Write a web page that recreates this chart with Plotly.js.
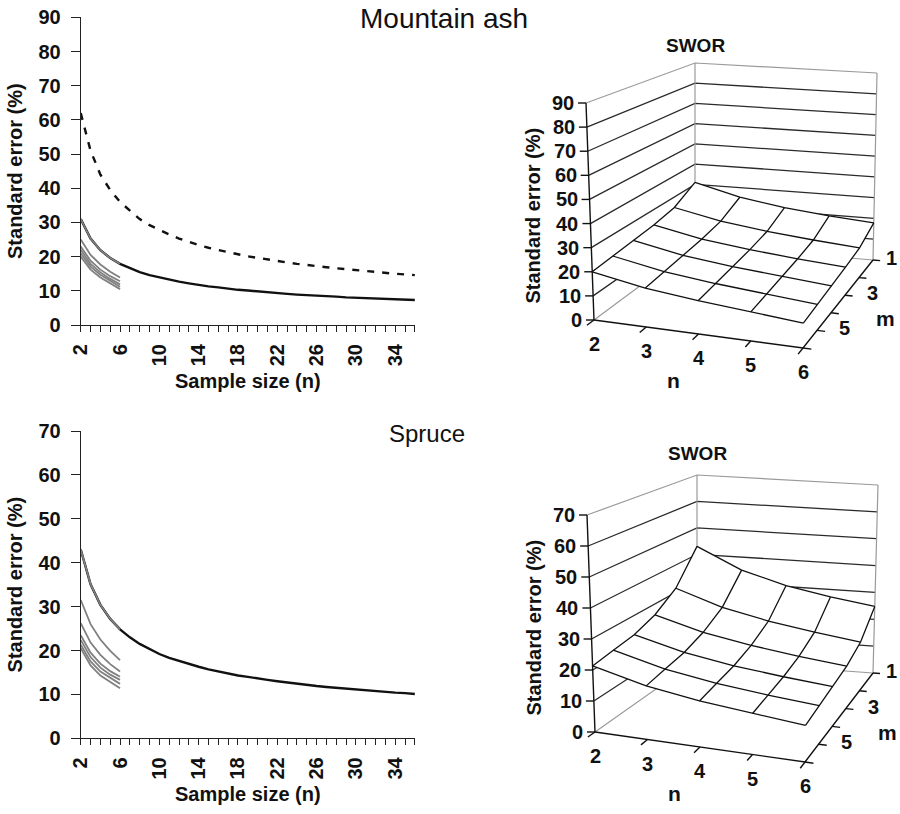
<!DOCTYPE html>
<html>
<head>
<meta charset="utf-8">
<script src="https://cdn.plot.ly/plotly-3.0.1.min.js"></script>
<style>html,body{margin:0;padding:0;background:#fff}#chart{width:900px;height:814px}</style>
</head>
<body>
<div id="chart"></div>
<script>
// ---------- data ----------
const sampleN = [2,3,4,5,6,7,8,9,10,11,12,13,14,15,16,17,18,19,20,21,22,23,24,25,26,27,28,29,30,31,32,33,34,35,36];
const ashDashed = [62,51,44,39.5,36,33.5,31,29.2,27.8,26.5,25.3,24.3,23.4,22.6,21.9,21.3,20.7,20.1,19.6,19.1,18.7,18.3,17.9,17.5,17.2,16.9,16.6,16.3,16.0,15.8,15.5,15.3,15.0,14.8,14.6];
const ashSolid = [31,25.3,21.9,19.6,17.9,16.6,15.5,14.6,13.9,13.2,12.7,12.2,11.7,11.3,11.0,10.6,10.3,10.1,9.8,9.6,9.3,9.1,8.9,8.8,8.6,8.4,8.3,8.1,8.0,7.9,7.8,7.6,7.5,7.4,7.3];
const spruceSolid = [43,35.1,30.4,27.2,24.8,23.0,21.5,20.3,19.2,18.3,17.6,16.9,16.3,15.7,15.2,14.7,14.3,14.0,13.6,13.3,13.0,12.7,12.4,12.2,11.9,11.7,11.5,11.3,11.1,10.9,10.8,10.6,10.4,10.3,10.1];

const subN = [2,3,4,5,6];
const mValues = [1,2,3,4,5,6];
const ashM1 = [31,25.3,21.9,19.6,17.9];
const ashM2 = [25,20.5,17.7,15.6,13.9];
const ashM3 = [23,18.8,16.2,14.3,12.8];
const ashM4 = [22,17.9,15.4,13.5,11.9];
const ashM5 = [21,17.1,14.7,12.9,11.2];
const ashM6 = [20,16.2,13.9,12.2,10.5];

const spruceM1 = [43,35.1,30.4,27.2,24.8];
const spruceM2 = [31.5,26.0,22.5,19.9,17.8];
const spruceM3 = [26.2,21.8,19.0,16.9,15.2];
const spruceM4 = [23.5,19.5,17.0,15.3,14.0];
const spruceM5 = [22.4,18.5,16.1,14.5,13.3];
const spruceM6 = [21.3,17.5,15.2,13.7,12.4];
const spruceM7 = [20.5,16.6,14.3,12.8,11.4];

const ashYTicks = [0,10,20,30,40,50,60,70,80,90];
const spruceYTicks = [0,10,20,30,40,50,60,70];
const m3DLabels = [1,3,5];

// ---------- styling ----------
const FF = 'Liberation Sans, Arial, Helvetica, sans-serif';
const boldFont = (s) => ({family: FF, size: s, color: '#111', weight: 'bold'});
const GRAY = '#808080';
const FIG_W = 900;

const traces = [];
const annotations = [];

// ---------- 2D panels ----------
traces.push({x: sampleN, y: ashDashed, type:'scatter', mode:'lines', line:{color:'#111', width:2.4, dash:'7px,8px'}, xaxis:'x', yaxis:'y', hoverinfo:'skip'});
traces.push({x: sampleN, y: ashSolid, type:'scatter', mode:'lines', line:{color:'#111', width:2.4}, xaxis:'x', yaxis:'y', hoverinfo:'skip'});
[ashM1, ashM2, ashM3, ashM4, ashM5, ashM6].forEach(v => traces.push({x: subN, y: v, type:'scatter', mode:'lines', line:{color:GRAY, width:1.8}, xaxis:'x', yaxis:'y', hoverinfo:'skip'}));
traces.push({x: sampleN, y: spruceSolid, type:'scatter', mode:'lines', line:{color:'#111', width:2.4}, xaxis:'x2', yaxis:'y2', hoverinfo:'skip'});
[spruceM1, spruceM2, spruceM3, spruceM4, spruceM5, spruceM6, spruceM7].forEach(v => traces.push({x: subN, y: v, type:'scatter', mode:'lines', line:{color:GRAY, width:1.8}, xaxis:'x2', yaxis:'y2', hoverinfo:'skip'}));

// ---------- 3D panels (drawn on a pixel-scaled overlay axis with a box projection) ----------
// box corner positions in the page (layout geometry, not data): bottom (z=0) and top (z=max)
const boxTop = {FL0:[594,320], FR0:[803,348], BR0:[873,260], BL0:[695,245],
                FL1:[586,103], FR1:[806,134], BR1:[877,73],  BL1:[695,63]};
const boxBot = {FL0:[595,732], FR0:[805,762], BR0:[873,673], BL0:[697,660],
                FL1:[587,515], FR1:[808,555], BR1:[878,485], BL1:[697,475]};

function makeProj(c, zMax) {
  const bil = (A,B,C,D,u,d) => [ (1-u)*(1-d)*A[0] + u*(1-d)*B[0] + u*d*C[0] + (1-u)*d*D[0],
                                 (1-u)*(1-d)*A[1] + u*(1-d)*B[1] + u*d*C[1] + (1-u)*d*D[1] ];
  const nMin = subN[0], nMax = subN[subN.length-1], mMin = mValues[0], mMax = mValues[mValues.length-1];
  const raw = (u,d,w) => {
    const b = bil(c.FL0,c.FR0,c.BR0,c.BL0,u,d), t = bil(c.FL1,c.FR1,c.BR1,c.BL1,u,d);
    return [b[0] + (t[0]-b[0])*w, b[1] + (t[1]-b[1])*w];
  };
  return {
    raw: raw,
    p: (n,m,z) => raw((n-nMin)/(nMax-nMin), (mMax-m)/(mMax-mMin), z/zMax)
  };
}

function addLines(segs, color, width) {
  const xs = [], ys = [];
  segs.forEach(s => { s.forEach(pt => { xs.push(pt[0]); ys.push(pt[1]); }); xs.push(null); ys.push(null); });
  traces.push({x: xs, y: ys, type:'scatter', mode:'lines', xaxis:'x3', yaxis:'y3', hoverinfo:'skip',
               line:{color: color, width: width}});
}

function draw3D(corners, rows, zTicks, titleY) {
  const zMax = zTicks[zTicks.length-1];
  const P = makeProj(corners, zMax);
  const R = P.raw;
  // wall gridlines (left wall n=min, back wall m=min)
  const wallSegs = [], edgeSegs = [];
  zTicks.forEach(t => {
    if (t === 0) return;
    const w = t / zMax;
    const seg = [R(0,0,w), R(0,1,w), R(1,1,w)];
    if (t === zMax) edgeSegs.push(seg); else wallSegs.push(seg);
  });
  addLines(wallSegs, '#2a2a2a', 1.3);
  edgeSegs.push([R(0,1,0), R(0,1,1)]);
  edgeSegs.push([R(1,1,0), R(1,1,1)]);
  edgeSegs.push([R(0,0,0), R(0,1,0), R(1,1,0)]);
  addLines(edgeSegs, '#9a9a9a', 1.2);

  // surface: white silhouette then wireframe
  const sx = [], sy = [];
  const push = pt => { sx.push(pt[0]); sy.push(pt[1]); };
  for (let j = mValues.length-1; j >= 0; j--) push(P.p(subN[0], mValues[j], rows[j][0]));
  for (let i = 1; i < subN.length; i++) push(P.p(subN[i], mValues[0], rows[0][i]));
  for (let j = 1; j < mValues.length; j++) push(P.p(subN[subN.length-1], mValues[j], rows[j][subN.length-1]));
  for (let i = subN.length-2; i >= 0; i--) push(P.p(subN[i], mValues[mValues.length-1], rows[mValues.length-1][i]));
  traces.push({x: sx, y: sy, type:'scatter', mode:'lines', fill:'toself', fillcolor:'#ffffff',
               line:{width:0, color:'rgba(0,0,0,0)'}, xaxis:'x3', yaxis:'y3', hoverinfo:'skip'});
  const gridSegs = [];
  mValues.forEach((m, j) => gridSegs.push(subN.map((n, i) => P.p(n, m, rows[j][i]))));
  subN.forEach((n, i) => gridSegs.push(mValues.map((m, j) => P.p(n, m, rows[j][i]))));
  addLines(gridSegs, '#111', 1.3);

  // axes lines and ticks
  const axisSegs = [[R(0,0,0), R(0,0,1)], [R(0,0,0), R(1,0,0), R(1,1,0)]];
  zTicks.forEach(t => { const a = R(0,0,t/zMax); axisSegs.push([a, [a[0]-8, a[1]]]); });
  subN.forEach(n => { const u = (n-subN[0])/(subN[subN.length-1]-subN[0]); axisSegs.push([R(u,0,0), R(u,-0.07,0)]); });
  mValues.forEach(m => { const d = (mValues[mValues.length-1]-m)/(mValues[mValues.length-1]-mValues[0]); axisSegs.push([R(1,d,0), R(1.04,d,0)]); });
  addLines(axisSegs, '#111', 1.4);

  // tick labels
  zTicks.forEach(t => { const a = R(0,0,t/zMax);
    annotations.push({xref:'x3', yref:'y3', x:a[0], y:a[1], text:String(t), showarrow:false, xanchor:'right', yanchor:'middle', xshift:-10, font: boldFont(20)}); });
  subN.forEach(n => { const a = P.p(n, mValues[mValues.length-1], 0);
    annotations.push({xref:'x3', yref:'y3', x:a[0], y:a[1], text:String(n), showarrow:false, xanchor:'center', yanchor:'top', yshift:-11, font: boldFont(20)}); });
  m3DLabels.forEach(m => { const a = P.p(subN[subN.length-1], m, 0);
    const fits = a[0] + 20 + 13 <= FIG_W - 1;
    annotations.push({xref:'x3', yref:'y3', x: fits ? a[0] : FIG_W - 1, y:a[1], text:String(m), showarrow:false,
      xanchor: fits ? 'left' : 'right', yanchor:'middle', xshift: fits ? 20 : 0, yshift:2, font: boldFont(20)}); });
  // axis titles
  const nT = R(0.38,0,0), mT = R(1,0.15,0), zT = R(0,0,0.5);
  annotations.push({xref:'x3', yref:'y3', x:nT[0], y:nT[1], text:'n', showarrow:false, yshift:-50, font: boldFont(21)});
  annotations.push({xref:'x3', yref:'y3', x:mT[0], y:mT[1], text:'m', showarrow:false, xshift:72, yshift:16, font: boldFont(21)});
  annotations.push({xref:'x3', yref:'y3', x:zT[0], y:zT[1], text:'Standard error (%)', showarrow:false, textangle:-90, xshift:-58, yshift:-4, font: boldFont(20)});
  annotations.push({xref:'x3', yref:'y3', x:(R(0,1,1)[0]), y:titleY, text:'SWOR', showarrow:false, xanchor:'center', yanchor:'middle', font: boldFont(19)});
}

draw3D(boxTop, [ashM1, ashM2, ashM3, ashM4, ashM5, ashM6], ashYTicks, 45);
draw3D(boxBot, [spruceM1, spruceM2, spruceM3, spruceM4, spruceM5, spruceM6], spruceYTicks, 453);

// ---------- layout ----------
function xAxis2D(anchor) {
  return {domain:[0.0897,0.461], range:[2,36], anchor: anchor, tick0:2, dtick:4, tickangle:-90,
    ticks:'outside', ticklen:6, tickcolor:'#222', showline:true, linecolor:'#222', linewidth:1,
    showgrid:false, zeroline:false, tickfont: boldFont(20), ticklabelstandoff:4, fixedrange:true,
    minor:{dtick:1, tick0:2, ticks:'outside', ticklen:6, tickcolor:'#222', showgrid:false},
    title:{text:'Sample size (n)', font: boldFont(20), standoff:8}};
}
function yAxis2D(domain, range, anchor, ticks) {
  return {domain: domain, range: range, anchor: anchor, tickvals: ticks,
    ticks:'outside', ticklen:9, tickcolor:'#222', showline:true, linecolor:'#222', linewidth:1,
    showgrid:false, zeroline:false, tickfont: boldFont(20), ticklabelstandoff:6, fixedrange:true,
    title:{text:'Standard error (%)', font: boldFont(20), standoff:10}};
}

annotations.push({text:'Mountain ash', xref:'paper', yref:'paper', x:444/900, y:1-19/814, xanchor:'center', yanchor:'middle', showarrow:false, font:{family:FF, size:28, color:'#111'}});
annotations.push({text:'Spruce', xref:'paper', yref:'paper', x:427/900, y:1-433/814, xanchor:'center', yanchor:'middle', showarrow:false, font:{family:FF, size:24, color:'#111'}});

const layout = {
  width:900, height:814, margin:{l:0,r:0,t:0,b:0}, paper_bgcolor:'#fff', plot_bgcolor:'rgba(0,0,0,0)',
  showlegend:false, font:{family: FF, color:'#111'},
  xaxis: xAxis2D('y'),
  yaxis: yAxis2D([0.6007,0.9787],[0,90],'x', ashYTicks),
  xaxis2: xAxis2D('y2'),
  yaxis2: yAxis2D([0.0930,0.4705],[0,70],'x2', spruceYTicks),
  xaxis3: {domain:[0,1], range:[0,900], anchor:'y3', visible:false, fixedrange:true},
  yaxis3: {domain:[0,1], range:[814,0], anchor:'x3', visible:false, fixedrange:true},
  annotations: annotations
};

Plotly.newPlot('chart', traces, layout, {displayModeBar:false, staticPlot:true});
</script>
</body>
</html>
